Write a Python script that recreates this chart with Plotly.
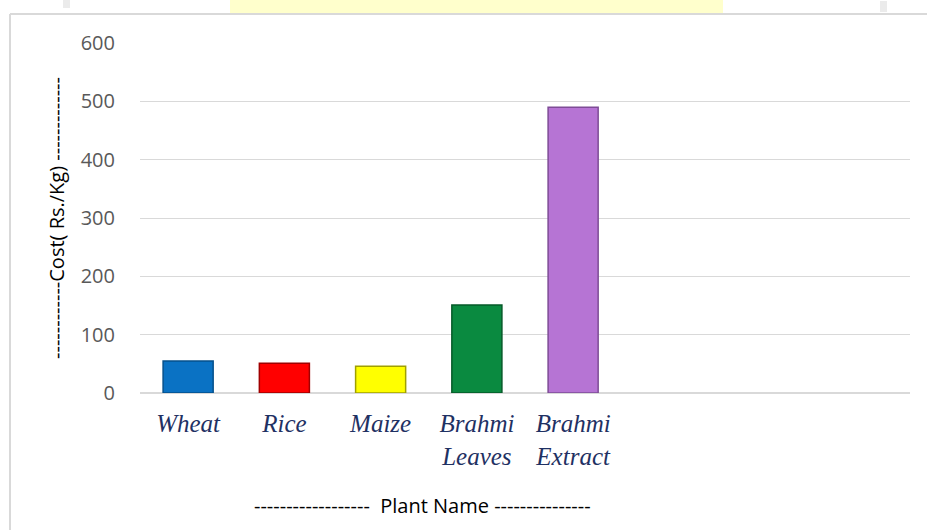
import plotly.graph_objects as go

categories = ["Wheat", "Rice", "Maize", "Brahmi<br>Leaves", "Brahmi<br>Extract", " ", "  ", "   "]
costs = [55, 51, 46, 151, 490, None, None, None]
bar_colors = ["#0A72C4", "#FF0000", "#FFFF00", "#0A8A40", "#B674D4", "#ffffff", "#ffffff", "#ffffff"]
edge_colors = ["#05508C", "#A00000", "#A0A000", "#055A28", "#7E4C96", "#ffffff", "#ffffff", "#ffffff"]
y_ticks = [0, 100, 200, 300, 400, 500, 600]

W, H = 927, 530
L, R, T, B = 140, 17, 43, 137
pw, ph = W - L - R, H - T - B

def px(x):
    return (x - L) / pw

def py(y):
    return (H - B - y) / ph

fig = go.Figure(go.Bar(
    x=categories, y=costs,
    marker=dict(color=bar_colors, line=dict(color=edge_colors, width=1.5)),
    width=0.52,
))

fig.update_layout(
    width=W, height=H,
    margin=dict(l=L, r=R, t=T, b=B),
    paper_bgcolor="white", plot_bgcolor="white",
    showlegend=False,
    xaxis=dict(
        type="category",
        tickfont=dict(family="Liberation Serif", size=25, color="#1F3163", style="italic"),
        showgrid=False, showline=False, zeroline=False,
        ticks="outside", ticklen=8, tickcolor="rgba(0,0,0,0)",
    ),
    yaxis=dict(
        range=[0, 600], tickvals=y_ticks,
        tickfont=dict(family="Open Sans", size=20, color="#595959"),
        showgrid=True, gridcolor="#D9D9D9", gridwidth=1,
        zeroline=True, zerolinecolor="#D9D9D9", zerolinewidth=2,
        showline=False,
        ticks="outside", ticklen=20, tickcolor="rgba(0,0,0,0)",
        title=dict(text="------------Cost( Rs./Kg) -------------",
                   font=dict(family="Open Sans", size=20, color="#000000"),
                   standoff=10),
    ),
    annotations=[dict(
        text="------------------  Plant Name ---------------",
        x=px(422), y=py(505), xref="paper", yref="paper",
        showarrow=False, font=dict(family="Open Sans", size=20, color="#000000"),
        xanchor="center", yanchor="middle",
    )],
    shapes=[
        dict(type="rect", xref="paper", yref="paper",
             x0=px(230), x1=px(723), y0=py(0), y1=py(13),
             fillcolor="#FFFFCC", line=dict(width=0), layer="below"),
        dict(type="rect", xref="paper", yref="paper",
             x0=px(63), x1=px(70), y0=py(0), y1=py(8),
             fillcolor="#EBEBEB", line=dict(width=0), layer="below"),
        dict(type="rect", xref="paper", yref="paper",
             x0=px(880), x1=px(887), y0=py(1), y1=py(12),
             fillcolor="#EBEBEB", line=dict(width=0), layer="below"),
        dict(type="line", xref="paper", yref="paper",
             x0=px(10), x1=px(927), y0=py(14), y1=py(14),
             line=dict(color="#D9D9D9", width=2)),
        dict(type="line", xref="paper", yref="paper",
             x0=px(10), x1=px(10), y0=py(14), y1=py(530),
             line=dict(color="#D9D9D9", width=2)),
    ],
)

fig.write_html("out.html", config={"displayModeBar": False},
               post_script="document.body.style.margin='0px';document.body.style.overflow='hidden';")
